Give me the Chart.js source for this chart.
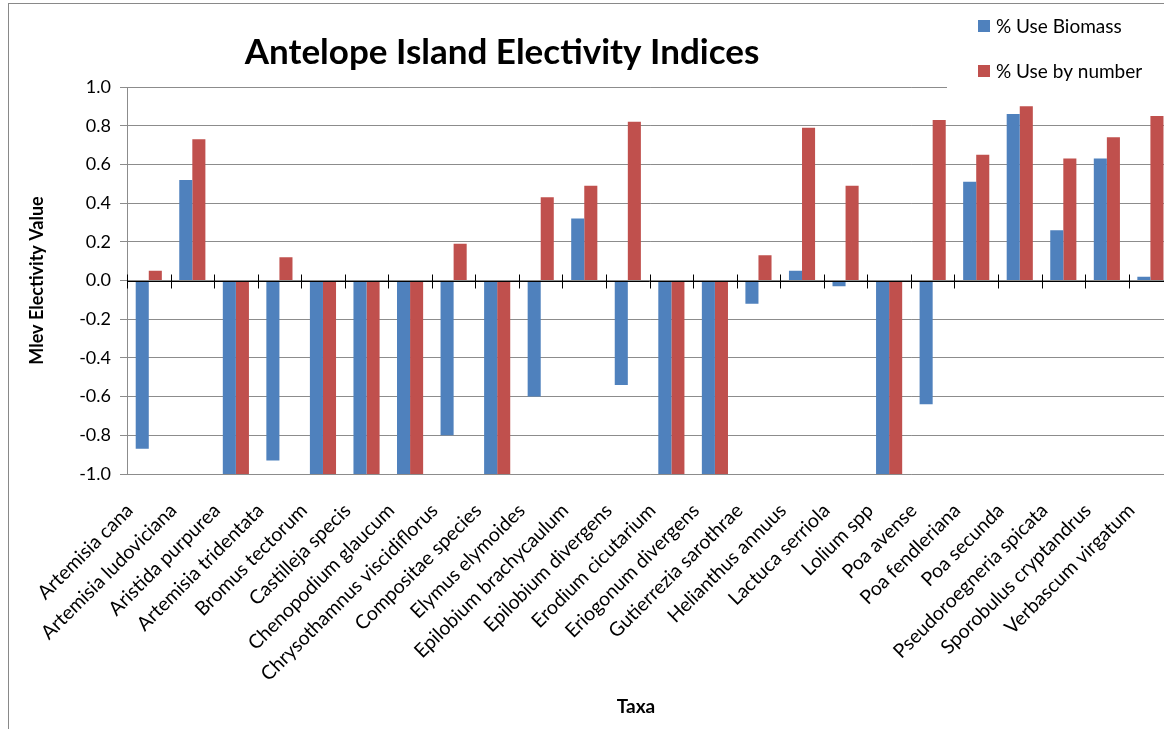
<!DOCTYPE html>
<html>
<head>
<meta charset="utf-8">
<script src="https://cdn.jsdelivr.net/npm/chart.js@4/dist/chart.umd.min.js"></script>
<style>
  html, body { margin: 0; padding: 0; background: #fff; overflow: hidden; }
  #chart { display: block; }
</style>
</head>
<body>
<canvas id="chart" width="1184" height="729"></canvas>
<script>
const categories = [
  "Artemisia cana", "Artemisia ludoviciana", "Aristida purpurea", "Artemisia tridentata",
  "Bromus tectorum", "Castilleja specis", "Chenopodium glaucum", "Chrysothamnus viscidiflorus",
  "Compositae species", "Elymus elymoides", "Epilobium brachycaulum", "Epilobium divergens",
  "Erodium cicutarium", "Eriogonum divergens", "Gutierrezia sarothrae", "Helianthus annuus",
  "Lactuca serriola", "Lolium spp", "Poa avense", "Poa fendleriana", "Poa secunda",
  "Pseudoroegneria spicata", "Sporobulus cryptandrus", "Verbascum virgatum"
];
const useBiomass = [-0.87, 0.52, -1, -0.93, -1, -1, -1, -0.80, -1, -0.60, 0.32, -0.54,
  -1, -1, -0.12, 0.05, -0.03, -1, -0.64, 0.51, 0.86, 0.26, 0.63, 0.02];
const useNumber = [0.05, 0.73, -1, 0.12, -1, -1, -1, 0.19, -1, 0.43, 0.49, 0.82,
  -1, -1, 0.13, 0.79, 0.49, -1, 0.83, 0.65, 0.90, 0.63, 0.74, 0.85];
const yMin = -1.0, yMax = 1.0, yStep = 0.2;

const chartTitle = "Antelope Island Electivity Indices";
const xTitle = "Taxa";
const font = "Lato";

// frame, title, zero axis with cross ticks, legend
const extras = {
  id: "extras",
  beforeDraw(chart) {
    const ctx = chart.ctx;
    ctx.save();
    ctx.fillStyle = "#fff";
    ctx.fillRect(0, 0, chart.width, chart.height);
    ctx.restore();
  },
  afterDatasetsDraw(chart) {
    const ctx = chart.ctx;
    const x = chart.scales.x, y = chart.scales.y;
    const y0 = Math.round(y.getPixelForValue(0)) + 0.5;
    ctx.save();
    ctx.strokeStyle = "#000";
    ctx.lineWidth = 1;
    ctx.beginPath();
    ctx.moveTo(chart.chartArea.left, y0);
    ctx.lineTo(chart.chartArea.right, y0);
    for (let i = 0; i <= categories.length; i++) {
      const px = Math.round(x.getPixelForValue(i - 0.5)) + 0.5;
      ctx.moveTo(px, y0 - 7);
      ctx.lineTo(px, y0 + 7);
    }
    ctx.stroke();
    ctx.restore();
  },
  afterDraw(chart) {
    const ctx = chart.ctx;
    ctx.save();
    // chart border
    ctx.strokeStyle = "#898989";
    ctx.lineWidth = 1;
    ctx.strokeRect(8.5, 3.5, 2000, 2000);

    // titles
    ctx.fillStyle = "#000";
    ctx.font = "bold 35px " + font;
    ctx.textAlign = "center";
    ctx.textBaseline = "middle";
    ctx.fillText(chartTitle, 502, 53);
    ctx.font = "bold 19px " + font;
    ctx.fillText(xTitle, 636, 707);

    // legend
    ctx.fillStyle = "#fff";
    ctx.fillRect(947, 8, 240, 84);
    ctx.font = "19px " + font;
    ctx.textAlign = "left";
    chart.data.datasets.forEach((ds, i) => {
      const cy = 26 + i * 45;
      ctx.fillStyle = ds.backgroundColor;
      ctx.fillRect(978, cy - 6, 12, 12);
      ctx.fillStyle = "#000";
      ctx.fillText(ds.label, 996, cy + 1);
    });
    ctx.restore();
  }
};

new Chart(document.getElementById("chart"), {
  type: "bar",
  data: {
    labels: categories,
    datasets: [
      { label: "% Use Biomass", data: useBiomass, backgroundColor: "#4F81BD" },
      { label: "% Use by number", data: useNumber, backgroundColor: "#C0504D" }
    ]
  },
  options: {
    responsive: false,
    animation: false,
    devicePixelRatio: 1,
    layout: { padding: { top: 87, left: 0, right: 2, bottom: 0 } },
    datasets: { bar: { categoryPercentage: 0.6, barPercentage: 1.0 } },
    plugins: {
      legend: { display: false },
      title: { display: false },
      tooltip: { enabled: false }
    },
    scales: {
      x: {
        grid: { display: false },
        border: { display: false },
        ticks: {
          color: "#000",
          font: { family: font, size: 19.5 },
          maxRotation: 45,
          minRotation: 45,
          autoSkip: false,
          padding: 17,
          labelOffset: -19
        },
        afterFit(scale) { scale.height = 729 - 474; }
      },
      y: {
        min: yMin,
        max: yMax,
        grid: {
          color: "#8c8c8c",
          tickLength: 7,
          drawTicks: true
        },
        border: { display: true, color: "#8c8c8c" },
        ticks: {
          stepSize: yStep,
          color: "#000",
          font: { family: font, size: 18 },
          padding: 9,
          callback: (v) => Number(v).toFixed(1)
        },
        title: {
          display: true,
          text: "Mlev Electivity Value",
          color: "#000",
          font: { family: font, size: 18, weight: "bold" },
          padding: { top: 26, bottom: 0 }
        },
        afterFit(scale) { scale.width = 127; }
      }
    }
  },
  plugins: [extras]
});
</script>
</body>
</html>
